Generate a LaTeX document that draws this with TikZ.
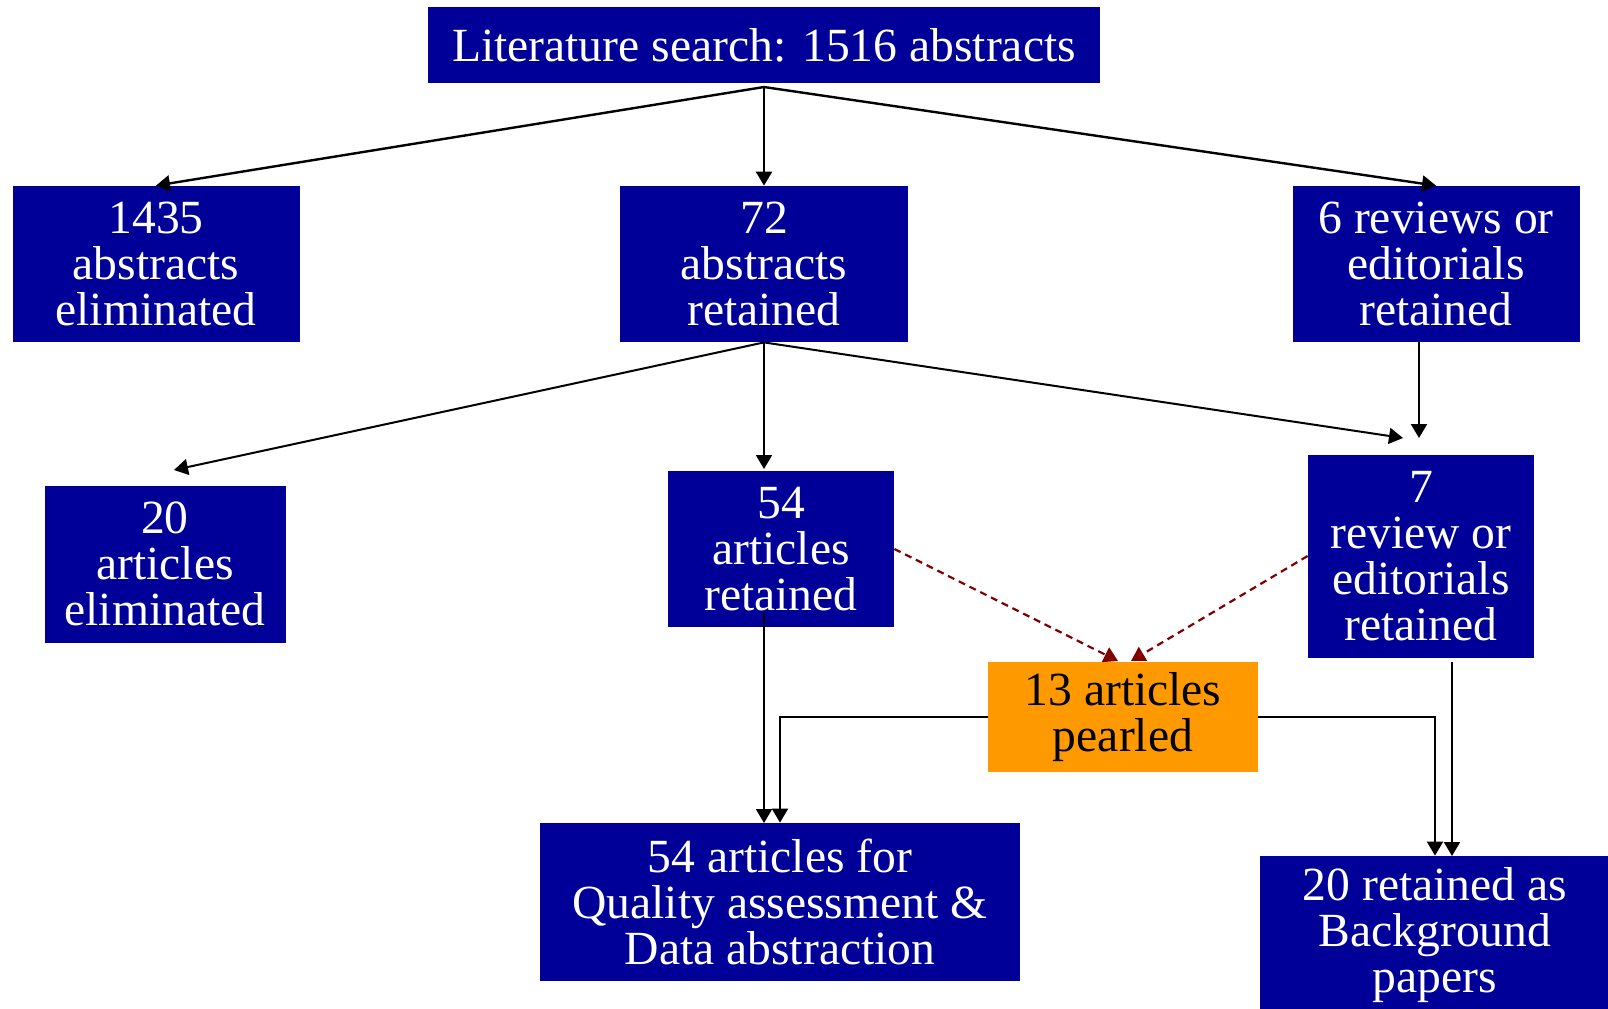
\documentclass[tikz,border=0pt]{standalone}
\usepackage{fontspec}
\setmainfont{Liberation Serif}
\usetikzlibrary{arrows.meta}
\definecolor{boxblue}{HTML}{000099}
\definecolor{pearlorange}{HTML}{FF9900}
\definecolor{dashred}{HTML}{800000}
\tikzset{
  box/.style={fill=boxblue, text=white, inner sep=0pt, align=center, font=\fontsize{23.8}{22.9}\selectfont},
  pearl/.style={box, fill=pearlorange, text=black},
  arrow/.style={-{Triangle[length=7pt, width=8pt]}, line width=1pt, draw=black},
  toparrow/.style={arrow, line width=1.2pt},
  pearlarrow/.style={-{Triangle[length=7pt, width=8pt]}, line width=1.1pt, draw=dashred, dash pattern=on 3.5pt off 2.5pt}
}
\begin{document}
\begin{tikzpicture}[x=0.5pt, y=-0.5pt]
\useasboundingbox (0,0) rectangle (1608,1008);
\node[box, minimum width=336pt, minimum height=38pt] (search) at (764,45) {Literature search: 1516 abstracts};
\node[box, minimum width=143.5pt, minimum height=78pt] (elimA) at (156,264) {1435\\abstracts\\eliminated};
\node[box, minimum width=144pt, minimum height=78pt] (retA) at (764,264) {72\\abstracts\\retained};
\node[box, minimum width=143.5pt, minimum height=78pt] (reviewsA) at (1436,264) {6 reviews or\\editorials\\retained};
\node[box, minimum width=120.5pt, minimum height=78.5pt] (elimB) at (165,564) {20\\articles\\eliminated};
\node[box, minimum width=113pt, minimum height=78pt] (retB) at (781,549) {54\\articles\\retained};
\node[box, minimum width=113pt, minimum height=101.5pt] (reviewsB) at (1421,556) {7\\review or\\editorials\\retained};
\node[pearl, minimum width=135pt, minimum height=55pt] (pearled) at (1123,717) {13 articles\\pearled};
\node[box, minimum width=240pt, minimum height=79pt] (quality) at (780,902) {54 articles for\\Quality assessment \&\\Data abstraction};
\node[box, minimum width=175pt, minimum height=79pt] (background) at (1435,935) {20 retained as\\Background\\papers};
% free ends of the connectors
\coordinate (fork) at (764,87);
\coordinate (elimBtip) at (174,470);
\coordinate (retBtip) at (764,469);
\coordinate (reviewsBtip) at (1403,438);
\coordinate (revdrop) at (1419,342);
\coordinate (revtip) at (1419,438);
\coordinate (pearlL) at (1118,661);
\coordinate (pearlR) at (1131,661);
\coordinate (retBdrop) at (764,613);
\coordinate (qualitytip) at (764,823);
\coordinate (reviewsBdrop) at (1452,662);
\coordinate (backgroundtip) at (1452,856);
\draw[toparrow] (fork) -- (elimA.north);
\draw[toparrow] (fork) -- (retA.north);
\draw[toparrow] (fork) -- (reviewsA.north);
\draw[arrow] (retA.south) -- (elimBtip);
\draw[arrow] (retA.south) -- (retBtip);
\draw[arrow] (retA.south) -- (reviewsBtip);
\draw[arrow] (revdrop) -- (revtip);
\draw[pearlarrow] (retB.east) -- (pearlL);
\draw[pearlarrow] (reviewsB.west) -- (pearlR);
\draw[arrow] (retBdrop) -- (qualitytip);
\draw[arrow] (pearled.west) -| (quality.north);
\draw[arrow] (pearled.east) -| (background.north);
\draw[arrow] (reviewsBdrop) -- (backgroundtip);
\end{tikzpicture}
\end{document}
